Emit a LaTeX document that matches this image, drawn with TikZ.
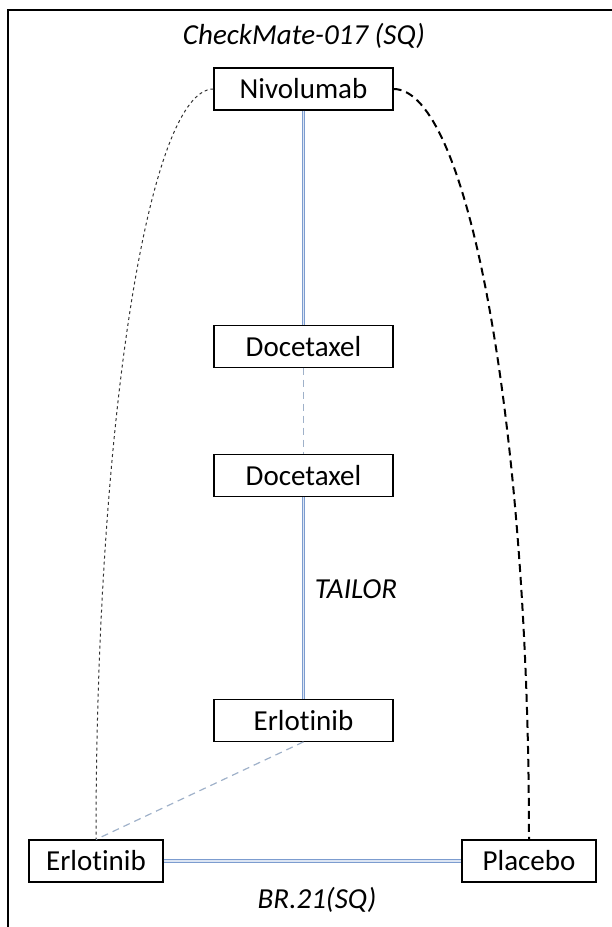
\documentclass[tikz,border=0pt]{standalone}
\usepackage{fontspec}
\setmainfont{Carlito}[Ligatures={NoCommon,NoRare,NoContextual}]
\usetikzlibrary{positioning}
\definecolor{linkblue}{HTML}{7C9CCF}
\definecolor{linkpale}{HTML}{DCE5F3}
\definecolor{dashblue}{HTML}{9FB1C9}
\definecolor{dotgray}{HTML}{333333}

\begin{document}
\begin{tikzpicture}[x=1pt, y=-1pt,
  arm/.style={draw=black, line width=1.1pt, fill=white, minimum width=179pt,
              minimum height=42pt, inner sep=0pt, font=\fontsize{29}{35}\selectfont},
  side/.style={arm, minimum width=134pt},
  trial/.style={font=\fontsize{29}{35}\selectfont\itshape},
  direct/.style={draw=linkblue, line width=1pt, double=linkpale, double distance=1.5pt},
  indirect/.style={draw=dashblue, line width=1.2pt, dash pattern=on 7pt off 5pt},
  thinloop/.style={draw=dotgray, line width=1pt, dash pattern=on 3pt off 3pt},
  thickloop/.style={draw=black, line width=2pt, dash pattern=on 8pt off 5pt}
]
  \useasboundingbox (0,0) rectangle (612,927);
  \draw[line width=2.5pt] (8,927) -- (8,10) -- (612,10);
  \node[arm] (niv) at (303.5,89) {Nivolumab};
  \node[arm,below=214pt of niv] (docA) {Docetaxel};
  \node[arm,below=86pt of docA] (docB) {Docetaxel};
  \node[arm,below=202pt of docB] (erlM) {Erlotinib};
  \node[side] (erlL) at (96,861) {Erlotinib};
  \node[side] (plac) at (529,861) {Placebo};
  \node[trial] (cm) at (304,36) {CheckMate-017 (SQ)};
  \node[trial] (tailor) at (356,589) {TAILOR};
  \node[trial] (br) at (317,900) {BR.21(SQ)};
  \foreach \x/\y in {niv/docA,docB/erlM,erlL/plac}{\draw[direct] (\x) -- (\y);}
  \draw[indirect] (docA) -- (docB);
  \draw[indirect] (erlM.south) -- (erlL.north);
  \draw[thinloop] (niv.west) .. controls +(-65,0) and +(0,-415) .. (erlL.north);
  \draw[thickloop] (niv.east) .. controls +(75,0) and +(0,-415) .. (plac.north);
\end{tikzpicture}
\end{document}
